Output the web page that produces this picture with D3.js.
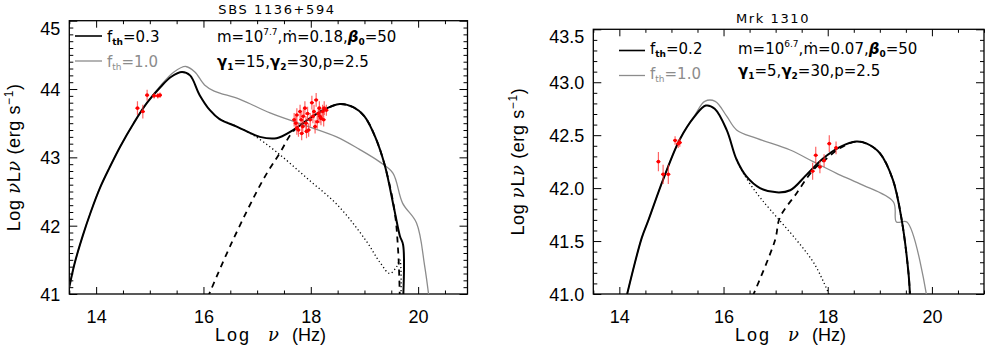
<!DOCTYPE html>
<html><head><meta charset="utf-8">
<script src="https://cdn.jsdelivr.net/npm/d3@7"></script>
<style>
body{margin:0;background:#fff}
svg{display:block}
text{font-family:"Liberation Sans",Arial,sans-serif;fill:#000}
.dv{font-family:"DejaVu Sans",sans-serif}
</style>
</head><body>
<svg id="c" width="988" height="350"></svg>
<script>
// ---------------- DATA ----------------
const xTickValues = [14, 16, 18, 20];
const leftYTickValues = [41, 42, 43, 44, 45];
const rightYTickValues = [41.0, 41.5, 42.0, 42.5, 43.0, 43.5];

// SBS 1136+594  [log nu, log nuLnu]
const sbsTotal03 = [[13.5,41.1],[13.6,41.45],[13.75,41.85],[13.9,42.2],[14.07,42.55],[14.25,42.85],[14.45,43.16],[14.7,43.5],[14.95,43.8],[15.2,44.03],[15.4,44.18],[15.6,44.25],[15.75,44.2],[15.93,43.91],[16.12,43.69],[16.3,43.56],[16.62,43.45],[17.05,43.3],[17.36,43.28],[17.67,43.4],[17.98,43.57],[18.2,43.68],[18.54,43.78],[18.8,43.73],[19.0,43.6],[19.2,43.3],[19.38,42.88],[19.56,42.22],[19.66,41.85],[19.72,41.72],[19.72,40.9]];
const sbsTotal10 = [[13.5,41.1],[13.6,41.45],[13.75,41.85],[13.9,42.2],[14.07,42.55],[14.25,42.85],[14.45,43.16],[14.7,43.5],[14.95,43.8],[15.2,44.05],[15.45,44.25],[15.67,44.33],[15.84,44.25],[16.02,44.06],[16.2,43.97],[16.68,43.85],[17.24,43.65],[17.85,43.48],[18.48,43.3],[18.9,43.12],[19.29,42.93],[19.53,42.77],[19.71,42.33],[19.97,42.04],[20.12,41.42],[20.21,40.9]];
const sbsSync = [[16.3,43.56],[16.62,43.45],[16.92,43.33],[17.36,43.08],[17.92,42.7],[18.5,42.3],[19.02,41.79],[19.3,41.45],[19.47,41.3],[19.6,41.4],[19.66,41.5],[19.68,40.9]];
const sbsCompton = [[16.08,40.95],[16.52,41.74],[17.11,42.67],[17.42,43.06],[17.67,43.38],[17.98,43.57],[18.2,43.68],[18.54,43.78],[18.8,43.73],[19.0,43.6],[19.2,43.3],[19.38,42.88],[19.56,42.22],[19.63,41.6],[19.66,40.9]];
// observed points [log nu, log nuLnu, err]
const sbsObs = [[14.77,43.72,0.1],[14.87,43.67,0.1],[14.95,43.91,0.08],[15.08,43.9,0.04],[15.15,43.9,0.04],[15.19,43.91,0.04],
[17.69,43.55,0.1],[17.72,43.5,0.1],[17.74,43.62,0.1],[17.74,43.43,0.1],[17.77,43.4,0.1],[17.8,43.67,0.1],[17.82,43.55,0.1],[17.83,43.35,0.1],[17.85,43.45,0.1],[17.86,43.6,0.1],[17.89,43.72,0.1],[17.91,43.5,0.1],[17.92,43.38,0.1],[17.94,43.64,0.1],[17.96,43.4,0.1],[17.99,43.55,0.1],[18.02,43.8,0.1],[18.04,43.6,0.1],[18.06,43.67,0.1],[18.08,43.45,0.1],[18.1,43.84,0.1],[18.12,43.52,0.1],[18.14,43.64,0.1],[18.16,43.72,0.1],[18.17,43.6,0.1],[18.19,43.57,0.1],[18.22,43.67,0.1],[18.24,43.55,0.1],[18.25,43.72,0.1],[18.29,43.69,0.08]];

// Mrk 1310
const mrkTotal02 = [[14.14,40.98],[14.43,41.53],[14.56,41.7],[14.84,42.08],[15.16,42.46],[15.45,42.68],[15.66,42.78],[15.83,42.75],[16.06,42.55],[16.25,42.27],[16.44,42.11],[16.7,42.0],[17.02,41.96],[17.28,41.98],[17.6,42.13],[17.91,42.28],[18.24,42.39],[18.55,42.44],[18.75,42.42],[19.0,42.33],[19.25,42.08],[19.42,41.7],[19.55,41.2],[19.58,40.98]];
const mrkTotal10 = [[14.14,40.98],[14.43,41.53],[14.56,41.7],[14.84,42.08],[15.16,42.46],[15.45,42.69],[15.64,42.82],[15.84,42.82],[16.06,42.68],[16.25,42.55],[16.64,42.47],[17.28,42.36],[17.72,42.25],[18.17,42.14],[18.62,42.04],[19.26,41.87],[19.32,41.68],[19.52,41.68],[19.9,40.98]];
const mrkSync = [[16.25,42.27],[16.38,42.14],[16.64,41.95],[16.89,41.8],[17.4,41.51],[17.75,41.28],[18.04,40.98]];
const mrkCompton = [[16.56,40.98],[16.99,41.51],[17.08,41.72],[17.4,41.95],[17.72,42.17],[17.98,42.28],[18.24,42.38],[18.55,42.44],[18.75,42.42],[19.0,42.33],[19.25,42.08],[19.42,41.7],[19.55,41.2],[19.58,40.98]];
const mrkObs = [[14.75,42.25,0.09],[14.84,42.13,0.09],[14.94,42.13,0.09],[15.07,42.45,0.04],[15.13,42.42,0.04],[15.16,42.43,0.04],
[17.71,42.16,0.08],[17.77,42.31,0.08],[17.85,42.2,0.06],[17.93,42.26,0.06],[18.03,42.42,0.08],[18.16,42.38,0.06]];

// ---------------- DRAW ----------------
const svg = d3.select("#c");

const panels = [
  {title:"SBS 1136+594", titleX:277, titleY:14,
   x0:69.3, x1:467.5, y0:20.7, y1:294, xDomain:[13.5,20.92], yDomain:[41,45],
   yTicks:leftYTickValues, yMinorStep:0.1, yFmt:d3.format("d"),
   ylabelX:20, xlab:[215,268,292],
   curves:[{d:sbsTotal10,c:"#8c8c8c",w:1.3,dash:null},
           {d:sbsSync,c:"#000",w:1.3,dash:"1.2,2.6"},
           {d:sbsCompton,c:"#000",w:1.8,dash:"6,5"},
           {d:sbsTotal03,c:"#000",w:2,dash:null}],
   obs:sbsObs,
   leg:{lx:75,lx2:102,y1:36,y2:61,tx:107,b1:42,b2:67,lab1:"0.3"},
   par:{x:217,b1:42,b2:67,m:"7.7",md:"0.18",g1:"15"}},
  {title:"Mrk 1310", titleX:773, titleY:23,
   x0:593.3, x1:984, y0:29.3, y1:294, xDomain:[13.5,21], yDomain:[41,43.5],
   yTicks:rightYTickValues, yMinorStep:0.1, yFmt:d3.format(".1f"),
   ylabelX:524, xlab:[735,788,812],
   curves:[{d:mrkTotal10,c:"#8c8c8c",w:1.3,dash:null},
           {d:mrkSync,c:"#000",w:1.3,dash:"1.2,2.6"},
           {d:mrkCompton,c:"#000",w:1.8,dash:"6,5"},
           {d:mrkTotal02,c:"#000",w:2,dash:null}],
   obs:mrkObs,
   leg:{lx:619,lx2:645,y1:50.5,y2:75.5,tx:650,b1:54,b2:79,lab1:"0.2"},
   par:{x:738,b1:54,b2:76,m:"6.7",md:"0.07",g1:"5"}}
];

panels.forEach((p,i)=>{
  const x = d3.scaleLinear().domain(p.xDomain).range([p.x0,p.x1]);
  const y = d3.scaleLinear().domain(p.yDomain).range([p.y1,p.y0]);
  const g = svg.append("g");
  const W = p.x1-p.x0, H = p.y1-p.y0;

  g.append("clipPath").attr("id","clip"+i).append("rect")
    .attr("x",p.x0).attr("y",p.y0).attr("width",W).attr("height",H);

  const xMinor = d3.range(p.xDomain[0], p.xDomain[1]+1e-9, 0.5).filter(v=>xTickValues.indexOf(v)<0);
  const yMinor = d3.range(0, Math.round((p.yDomain[1]-p.yDomain[0])/p.yMinorStep)+1)
     .map(k=>+(p.yDomain[0]+k*p.yMinorStep).toFixed(2)).filter(v=>p.yTicks.indexOf(v)<0);

  const styleAxis = sel => { sel.select(".domain").remove(); sel.selectAll("line").attr("stroke","#000").attr("stroke-width",1); };
  const yTop = p.yDomain[1];

  // bottom
  g.append("g").attr("transform",`translate(0,${p.y1})`)
    .call(d3.axisBottom(x).tickValues(xTickValues).tickSize(-7).tickPadding(16).tickFormat(d3.format("d")))
    .call(styleAxis).selectAll("text").attr("font-size",18).attr("font-family","Liberation Sans, Arial, sans-serif");
  g.append("g").attr("transform",`translate(0,${p.y1})`)
    .call(d3.axisBottom(x).tickValues(xMinor).tickSize(-3.5).tickFormat(""))
    .call(styleAxis);
  // top
  g.append("g").attr("transform",`translate(0,${p.y0})`)
    .call(d3.axisTop(x).tickValues(xTickValues).tickSize(-7).tickFormat(""))
    .call(styleAxis);
  g.append("g").attr("transform",`translate(0,${p.y0})`)
    .call(d3.axisTop(x).tickValues(xMinor).tickSize(-3.5).tickFormat(""))
    .call(styleAxis);
  // left
  g.append("g").attr("transform",`translate(${p.x0},0)`)
    .call(d3.axisLeft(y).tickValues(p.yTicks).tickSize(-8).tickPadding(9).tickFormat(p.yFmt))
    .call(styleAxis).selectAll("text").attr("font-size",18)
    .attr("dy",d=>Math.abs(d-yTop)<1e-9 ? "0.75em" : "0.36em")
    .attr("font-family","Liberation Sans, Arial, sans-serif");
  g.append("g").attr("transform",`translate(${p.x0},0)`)
    .call(d3.axisLeft(y).tickValues(yMinor).tickSize(-4).tickFormat(""))
    .call(styleAxis);
  // right
  g.append("g").attr("transform",`translate(${p.x1},0)`)
    .call(d3.axisRight(y).tickValues(p.yTicks).tickSize(-8).tickFormat(""))
    .call(styleAxis);
  g.append("g").attr("transform",`translate(${p.x1},0)`)
    .call(d3.axisRight(y).tickValues(yMinor).tickSize(-4).tickFormat(""))
    .call(styleAxis);

  // frame
  g.append("rect").attr("x",p.x0).attr("y",p.y0).attr("width",W).attr("height",H)
    .attr("fill","none").attr("stroke","#000").attr("stroke-width",1.3);

  // curves
  const line = d3.line().x(d=>x(d[0])).y(d=>y(d[1])).curve(d3.curveCatmullRom.alpha(0.5));
  const cg = g.append("g").attr("clip-path",`url(#clip${i})`);
  p.curves.forEach(c=>{
    cg.append("path").datum(c.d).attr("d",line).attr("fill","none")
      .attr("stroke",c.c).attr("stroke-width",c.w).attr("stroke-dasharray",c.dash)
      .attr("stroke-linejoin","round");
  });
  // observations
  const og = cg.append("g");
  og.selectAll("line.err").data(p.obs).join("line")
    .attr("x1",d=>x(d[0])).attr("x2",d=>x(d[0]))
    .attr("y1",d=>y(d[1]-d[2])).attr("y2",d=>y(d[1]+d[2]))
    .attr("stroke","#ff3030").attr("stroke-opacity",0.75).attr("stroke-width",1.2);
  og.selectAll("line.xe").data(p.obs).join("line")
    .attr("x1",d=>x(d[0])-2).attr("x2",d=>x(d[0])+2)
    .attr("y1",d=>y(d[1])).attr("y2",d=>y(d[1]))
    .attr("stroke","#ff0000").attr("stroke-width",1.2);
  og.selectAll("circle").data(p.obs).join("circle")
    .attr("cx",d=>x(d[0])).attr("cy",d=>y(d[1])).attr("r",1.8).attr("fill","#ff0000");

  // title
  g.append("text").attr("class","dv").attr("x",p.titleX).attr("y",p.titleY).attr("text-anchor","middle")
    .attr("font-size",13).attr("letter-spacing",1.6).text(p.title);

  // x label
  const xl = g.append("text").attr("y",341).attr("font-size",18);
  xl.append("tspan").attr("x",p.xlab[0]).attr("letter-spacing",2).text("Log");
  xl.append("tspan").attr("x",p.xlab[1]).attr("font-style","italic").attr("font-family","DejaVu Serif, serif").text("ν");
  xl.append("tspan").attr("x",p.xlab[2]).text("(Hz)");

  // y label
  const yl = g.append("text").attr("transform",`translate(${p.ylabelX},${(p.y0+p.y1)/2}) rotate(-90)`)
    .attr("text-anchor","middle").attr("font-size",18).attr("letter-spacing",0.6);
  yl.append("tspan").text("Log ");
  yl.append("tspan").attr("font-style","italic").attr("font-family","DejaVu Serif, serif").text("ν");
  yl.append("tspan").text("L");
  yl.append("tspan").attr("font-style","italic").attr("font-family","DejaVu Serif, serif").text("ν");
  yl.append("tspan").text(" (erg s");
  yl.append("tspan").attr("font-size",12).attr("dy",-7).text("−1");
  yl.append("tspan").attr("dy",7).text(")");

  // legend
  const L = p.leg;
  g.append("line").attr("x1",L.lx).attr("x2",L.lx2).attr("y1",L.y1).attr("y2",L.y1).attr("stroke","#000").attr("stroke-width",1.6);
  g.append("line").attr("x1",L.lx).attr("x2",L.lx2).attr("y1",L.y2).attr("y2",L.y2).attr("stroke","#8c8c8c").attr("stroke-width",1.3);
  const t1 = g.append("text").attr("class","dv").attr("x",L.tx).attr("y",L.b1).attr("font-size",15);
  t1.append("tspan").text("f");
  t1.append("tspan").attr("font-size",9).attr("dy",3).attr("font-weight","bold").text("th");
  t1.append("tspan").attr("dy",-3).text("=" + L.lab1);
  const t2 = g.append("text").attr("class","dv").attr("x",L.tx).attr("y",L.b2).attr("font-size",15).style("fill","#8c8c8c");
  t2.append("tspan").text("f");
  t2.append("tspan").attr("font-size",9).attr("dy",3).text("th");
  t2.append("tspan").attr("dy",-3).text("=1.0");

  // parameters
  const P = p.par;
  const p1 = g.append("text").attr("class","dv").attr("x",P.x).attr("y",P.b1).attr("font-size",15);
  p1.append("tspan").text("m=10");
  p1.append("tspan").attr("font-size",9).attr("dy",-7).text(P.m);
  p1.append("tspan").attr("dy",7).text(",ṁ=" + P.md + ",");
  p1.append("tspan").attr("font-weight","bold").attr("font-style","italic").text("β");
  p1.append("tspan").attr("font-size",9).attr("dy",3).attr("font-weight","bold").text("0");
  p1.append("tspan").attr("dy",-3).text("=50");
  const p2 = g.append("text").attr("class","dv").attr("x",P.x).attr("y",P.b2).attr("font-size",15);
  p2.append("tspan").attr("font-weight","bold").text("γ");
  p2.append("tspan").attr("font-size",9).attr("dy",3).attr("font-weight","bold").text("1");
  p2.append("tspan").attr("dy",-3).text("=" + P.g1 + ",");
  p2.append("tspan").attr("font-weight","bold").text("γ");
  p2.append("tspan").attr("font-size",9).attr("dy",3).attr("font-weight","bold").text("2");
  p2.append("tspan").attr("dy",-3).text("=30,p=2.5");
});
</script>
</body></html>
